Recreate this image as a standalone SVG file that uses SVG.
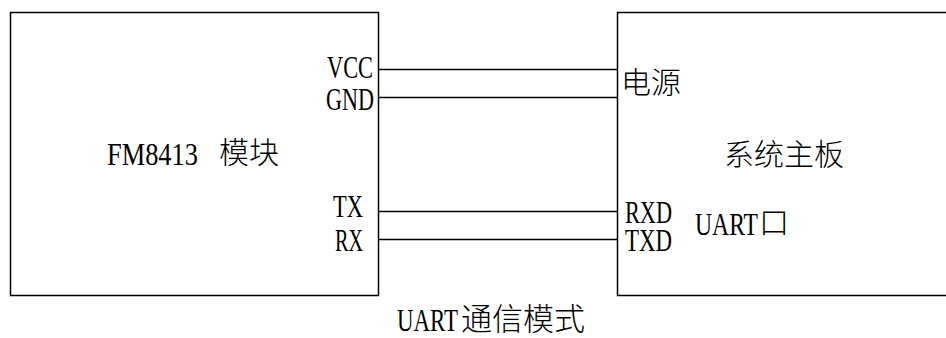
<svg xmlns="http://www.w3.org/2000/svg" width="946" height="338" viewBox="0 0 946 338">
<style>
.box{fill:#fff;stroke:#000;stroke-width:1.5}
.wire{stroke:#000;stroke-width:1.3;fill:none}
.lat{font-family:"Liberation Serif",serif;font-size:25px;fill:#000}
.cjk{font-family:"Noto Sans CJK SC",sans-serif;font-size:30px;font-weight:300;fill:#000}
</style>
<rect width="946" height="338" fill="#fff"/>
<g id="fm8413">
<rect class="box" x="10.5" y="12.5" width="368" height="283"/>
<g transform="translate(107,165) scale(1,1.27)"><text class="lat" x="0" y="0" textLength="91" lengthAdjust="spacingAndGlyphs">FM8413</text></g>
<text class="cjk" x="219" y="163">模块</text>
<g transform="translate(327,78) scale(1,1.27)"><text class="lat" x="0" y="0" textLength="46" lengthAdjust="spacingAndGlyphs">VCC</text></g>
<g transform="translate(326,110) scale(1,1.27)"><text class="lat" x="0" y="0" textLength="48" lengthAdjust="spacingAndGlyphs">GND</text></g>
<g transform="translate(333,217) scale(1,1.27)"><text class="lat" x="0" y="0" textLength="30" lengthAdjust="spacingAndGlyphs">TX</text></g>
<g transform="translate(335,251) scale(1,1.27)"><text class="lat" x="0" y="0" textLength="28" lengthAdjust="spacingAndGlyphs">RX</text></g>
</g>
<g id="mainboard">
<rect class="box" x="617.5" y="12.5" width="330" height="283"/>
<text class="cjk" x="621" y="93">电源</text>
<text class="cjk" x="724" y="165">系统主板</text>
<g transform="translate(625,223) scale(1,1.27)"><text class="lat" x="0" y="0" textLength="47" lengthAdjust="spacingAndGlyphs">RXD</text></g>
<g transform="translate(625,251) scale(1,1.27)"><text class="lat" x="0" y="0" textLength="47" lengthAdjust="spacingAndGlyphs">TXD</text></g>
<g transform="translate(695,235) scale(1,1.27)"><text class="lat" x="0" y="0" textLength="63" lengthAdjust="spacingAndGlyphs">UART</text></g>
<text class="cjk" x="759" y="233">口</text>
</g>
<g id="connectors">
<line class="wire" x1="378.5" y1="69.5" x2="617.5" y2="69.5"/>
<line class="wire" x1="378.5" y1="97.5" x2="617.5" y2="97.5"/>
<line class="wire" x1="378.5" y1="211.5" x2="617.5" y2="211.5"/>
<line class="wire" x1="378.5" y1="239.5" x2="617.5" y2="239.5"/>
</g>
<g id="caption">
<g transform="translate(397,331) scale(1,1.27)"><text class="lat" x="0" y="0" textLength="61" lengthAdjust="spacingAndGlyphs">UART</text></g>
<text class="cjk" x="461" y="330" style="font-size:31px">通信模式</text>
</g>
</svg>
